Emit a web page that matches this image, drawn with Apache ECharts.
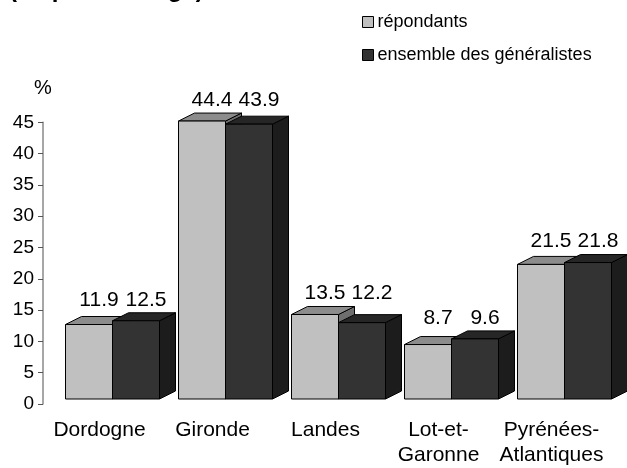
<!DOCTYPE html>
<html>
<head>
<meta charset="utf-8">
<script src="https://cdn.jsdelivr.net/npm/echarts@6/dist/echarts.min.js"></script>
<style>
html,body{margin:0;padding:0;background:#fff;}
#main{width:627px;height:468px;}
</style>
</head>
<body>
<div id="main"></div>
<script>
const titleText = "(en pourcentage)";
const categories = ["Dordogne", "Gironde", "Landes", "Lot-et-\nGaronne", "Pyrénées-\nAtlantiques"];
const seriesNames = ["répondants", "ensemble des généralistes"];
const repondants = [11.9, 44.4, 13.5, 8.7, 21.5];
const generalistes = [12.5, 43.9, 12.2, 9.6, 21.8];
const yTicks = {min: 0, max: 45, interval: 5};

const FONT = "'Liberation Sans', Arial, Helvetica, sans-serif";
const BAR_W = 47, DX = 16, DY = -8, SHIFT = 13, LIFT = 5;
const palettes = [
  {front: '#c0c0c0', top: '#8c8c8c', side: '#6e6e6e'},
  {front: '#333333', top: '#262626', side: '#1c1c1c'}
];

function makeRender(si) {
  return function (params, api) {
    const idx = api.value(0), v = api.value(1);
    const p = api.coord([idx, v]);
    const p0 = api.coord([idx, 0]);
    const groupMax = Math.max(repondants[idx], generalistes[idx]);
    const pm = api.coord([idx, groupMax]);
    const cx = p0[0] + SHIFT;
    const x0 = si === 0 ? cx - BAR_W : cx;
    const x1 = x0 + BAR_W;
    const yT = p[1] - LIFT, yB = p0[1] - LIFT;
    const pal = palettes[si];
    const st = {stroke: '#000', lineWidth: 1};
    return {
      type: 'group',
      children: [
        {type: 'polygon', shape: {points: [[x1, yB], [x1 + DX, yB + DY], [x1 + DX, yT + DY], [x1, yT]]}, style: Object.assign({fill: pal.side}, st)},
        {type: 'polygon', shape: {points: [[x0, yT], [x0 + DX, yT + DY], [x1 + DX, yT + DY], [x1, yT]]}, style: Object.assign({fill: pal.top}, st)},
        {type: 'rect', shape: {x: x0, y: yT, width: BAR_W, height: yB - yT}, style: Object.assign({fill: pal.front}, st)},
        {type: 'text', x: x0 + BAR_W / 2 + 10, y: pm[1] - LIFT - 10.5,
         style: {text: v.toFixed(1), fill: '#000', font: '21px ' + FONT, align: 'center', verticalAlign: 'bottom'}}
      ]
    };
  };
}

const chart = echarts.init(document.getElementById('main'), null, {renderer: 'canvas'});
chart.setOption({
  animation: false,
  backgroundColor: '#fff',
  title: {
    text: titleText, left: 9, top: -22, padding: 0,
    textStyle: {fontFamily: FONT, fontWeight: 'bold', fontSize: 24, lineHeight: 24, color: '#000'}
  },
  legend: {
    orient: 'vertical', left: 362, top: 13, padding: 0,
    itemWidth: 11, itemHeight: 11, itemGap: 15,
    textStyle: {fontFamily: FONT, fontSize: 18, lineHeight: 18, color: '#000', padding: [0, 0, 0, -1]},
    data: [
      {name: seriesNames[0], icon: 'rect', itemStyle: {color: palettes[0].front, borderColor: '#000', borderWidth: 1}},
      {name: seriesNames[1], icon: 'rect', itemStyle: {color: palettes[1].front, borderColor: '#000', borderWidth: 1}}
    ]
  },
  grid: {left: 43, right: 19, top: 122.3, bottom: 63.7, containLabel: false},
  xAxis: {
    type: 'category', data: categories, boundaryGap: true,
    axisLine: {show: false}, axisTick: {show: false},
    axisLabel: {interval: 0, margin: 14, fontFamily: FONT, fontSize: 21, lineHeight: 25, color: '#000', align: 'center'}
  },
  yAxis: {
    type: 'value', min: yTicks.min, max: yTicks.max, interval: yTicks.interval,
    name: '%', nameLocation: 'end', nameGap: 24,
    nameTextStyle: {fontFamily: FONT, fontSize: 20, color: '#000', align: 'center'},
    axisLine: {show: true, lineStyle: {color: '#8a8a8a', width: 1.5}},
    axisTick: {show: true, inside: false, length: 5, lineStyle: {color: '#555', width: 1}},
    axisLabel: {margin: 9, fontFamily: FONT, fontSize: 19, color: '#000'},
    splitLine: {show: false}
  },
  series: [
    {name: seriesNames[0], type: 'custom', renderItem: makeRender(0), itemStyle: {color: palettes[0].front, borderColor: '#000', borderWidth: 1},
     data: repondants.map((v, i) => [i, v]), encode: {x: 0, y: 1}, z: 2},
    {name: seriesNames[1], type: 'custom', renderItem: makeRender(1), itemStyle: {color: palettes[1].front, borderColor: '#000', borderWidth: 1},
     data: generalistes.map((v, i) => [i, v]), encode: {x: 0, y: 1}, z: 3}
  ]
});
</script>
</body>
</html>
